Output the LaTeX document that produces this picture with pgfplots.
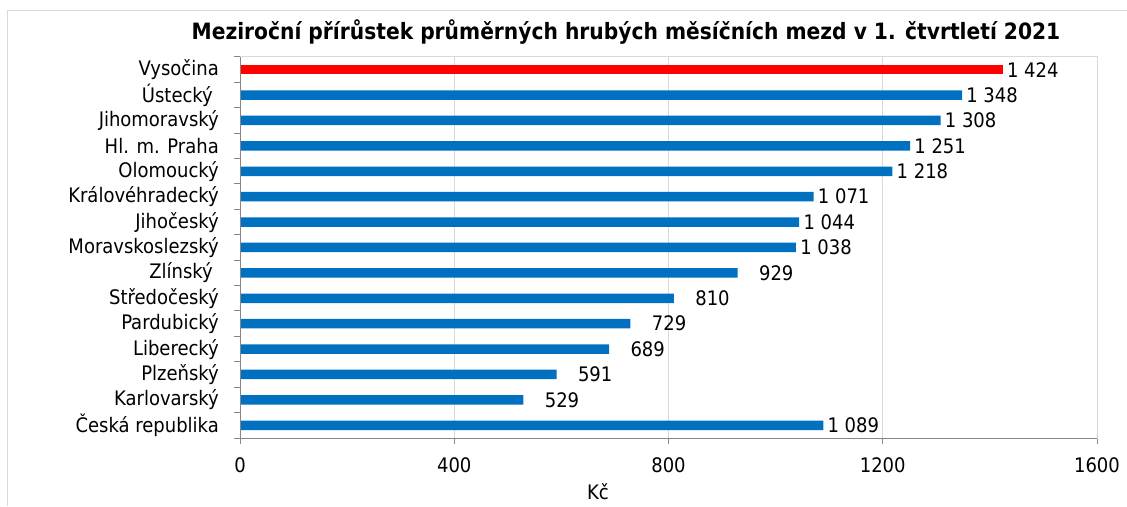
\documentclass[border=0pt]{standalone}
\usepackage{fontspec}
\setmainfont{DejaVu Sans Condensed}
\usepackage{pgfplots}
\pgfplotsset{compat=1.18}
\definecolor{barblue}{HTML}{0070C0}
\definecolor{barred}{HTML}{FF0000}
\definecolor{gridgray}{HTML}{D9D9D9}
\definecolor{axisgray}{HTML}{868686}
\newcommand{\lblfont}{\fontsize{20pt}{24pt}\selectfont}
\begin{document}
\begin{tikzpicture}[x=1pt,y=1pt]
\useasboundingbox (0,0) rectangle (1127,506);
\draw[gridgray, line width=1pt] (7.5,0) -- (7.5,495.5) -- (1127,495.5);
\begin{axis}[
  at={(240pt,68pt)}, anchor=south west, scale only axis,
  width=857pt, height=381pt,
  /pgf/number format/assume math mode=true,
  xmin=0, xmax=1600, xtick={0,400,...,1600},
  xticklabel={\pgfmathprintnumber[1000 sep={}]{\tick}},
  ymin=-0.5, ymax=14.5,
  ytick={-0.5,0.5,...,14.5},
  y tick label as interval,
  yticklabels={Česká republika,Karlovarský,Plzeňský,Liberecký,Pardubický,Středočeský,{Zlínský\kern6pt},Moravskoslezský,Jihočeský,Královéhradecký,Olomoucký,Hl. m. Praha,Jihomoravský,{Ústecký\kern6pt},Vysočina},
  tick align=outside, major tick length=6pt,
  xtick pos=bottom, ytick pos=left,
  tick style={axisgray, line width=1pt},
  axis line style={gridgray, line width=1pt},
  xmajorgrids, grid style={gridgray, line width=1pt},
  yticklabel style={font=\lblfont, inner sep=0pt, xshift=-15pt},
  xticklabel style={font=\lblfont, inner sep=0pt, yshift=-13pt},
  xlabel={Kč},
  xlabel style={font=\lblfont, at={(axis description cs:0.4177,-0.1417)}, anchor=center},
  title={Meziroční přírůstek průměrných hrubých měsíčních mezd v 1. čtvrtletí 2021},
  title style={font=\bfseries\fontsize{22.5pt}{26pt}\selectfont, at={(axis description cs:0.4504,1.050)}, anchor=center},
  xbar, bar width=9.5pt, bar shift=0pt,
  point meta=x,
  nodes near coords={\pgfmathprintnumber[1000 sep={\ }]{\pgfplotspointmeta}},
  nodes near coords style={font=\lblfont, inner sep=0pt, anchor=east, xshift=56pt, text=black},
  after end axis/.code={
    \draw[axisgray, line width=1pt] (rel axis cs:0,1) -- (rel axis cs:0,0) -- (rel axis cs:1,0);
  },
]
\addplot[fill=barblue, draw=none] coordinates {
  (1089,0) (529,1) (591,2) (689,3) (729,4) (810,5) (929,6) (1038,7)
  (1044,8) (1071,9) (1218,10) (1251,11) (1308,12) (1348,13)
};
\addplot[fill=barred, draw=none] coordinates {(1424,14)};
\end{axis}
\end{tikzpicture}
\end{document}
